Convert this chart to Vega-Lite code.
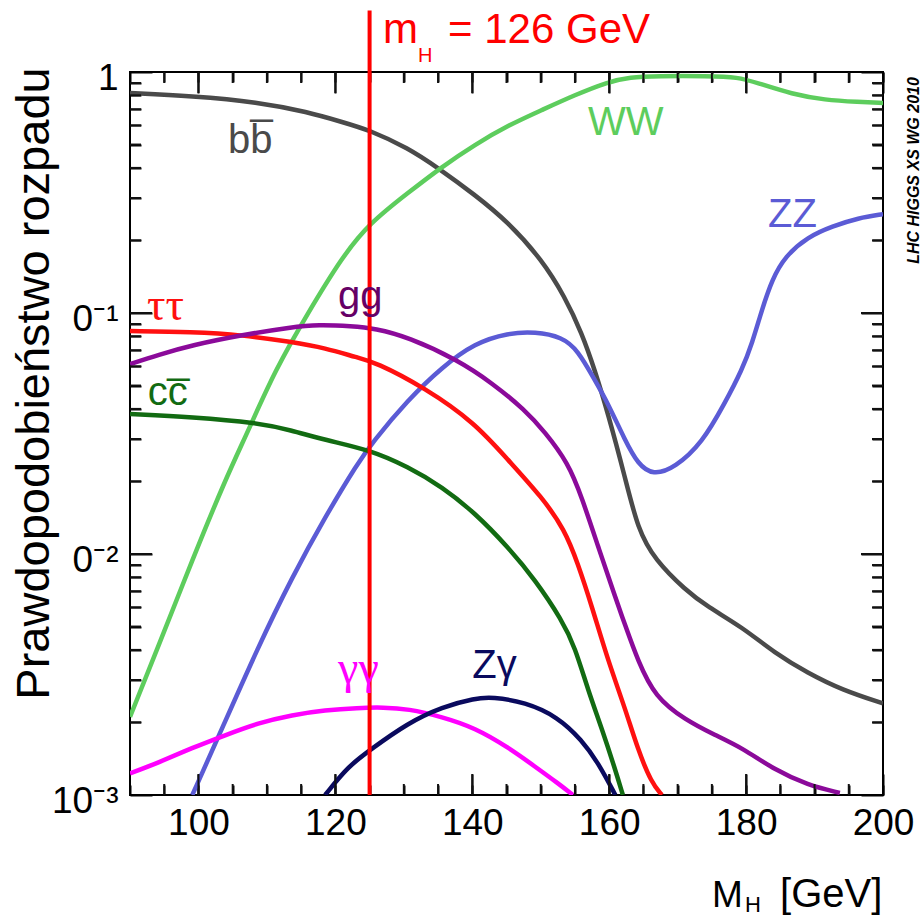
{
  "$schema": "https://vega.github.io/schema/vega-lite/v6.json",
  "width": 753,
  "height": 723,
  "autosize": {"type": "none"},
  "padding": {"left": 130, "top": 72, "right": 40, "bottom": 123},
  "background": "white",
  "config": {
    "view": {"stroke": "black", "strokeWidth": 2},
    "font": "Liberation Sans",
    "axis": {"domain": false, "grid": false, "ticks": true, "tickColor": "#000000", "tickWidth": 2, "tickOpacity": 1, "labelColor": "black", "titleColor": "black", "labelFlush": false, "labelOverlap": false, "labelFont": "Liberation Sans", "titleFont": "Liberation Sans"}
  },
  "datasets": {
    "xminor": [{"v": 95}, {"v": 105}, {"v": 110}, {"v": 115}, {"v": 125}, {"v": 130}, {"v": 135}, {"v": 145}, {"v": 150}, {"v": 155}, {"v": 165}, {"v": 170}, {"v": 175}, {"v": 185}, {"v": 190}, {"v": 195}],
    "xmajor": [{"v": 100}, {"v": 120}, {"v": 140}, {"v": 160}, {"v": 180}],
    "yminor": [{"v": 0.002}, {"v": 0.003}, {"v": 0.004}, {"v": 0.005}, {"v": 0.006}, {"v": 0.007}, {"v": 0.008}, {"v": 0.009}, {"v": 0.02}, {"v": 0.03}, {"v": 0.04}, {"v": 0.05}, {"v": 0.06}, {"v": 0.07}, {"v": 0.08}, {"v": 0.09}, {"v": 0.2}, {"v": 0.3}, {"v": 0.4}, {"v": 0.5}, {"v": 0.6}, {"v": 0.7}, {"v": 0.8}, {"v": 0.9}],
    "ymajor": [{"v": 0.01}, {"v": 0.1}]
  },
  "resolve": {"axis": {"x": "independent", "y": "independent"}, "scale": {"color": "independent"}},
  "layer": [
    {
      "data": {"values": [
        {"c": "bb", "m": 90, "br": 0.818}, {"c": "bb", "m": 99, "br": 0.795}, {"c": "bb", "m": 108.7, "br": 0.751}, {"c": "bb", "m": 116, "br": 0.682}, {"c": "bb", "m": 121, "br": 0.62}, {"c": "bb", "m": 125, "br": 0.574}, {"c": "bb", "m": 130.6, "br": 0.484}, {"c": "bb", "m": 135, "br": 0.4}, {"c": "bb", "m": 140.4, "br": 0.309}, {"c": "bb", "m": 145.2, "br": 0.239}, {"c": "bb", "m": 150.2, "br": 0.166}, {"c": "bb", "m": 153.5, "br": 0.117}, {"c": "bb", "m": 156, "br": 0.0826}, {"c": "bb", "m": 157.9, "br": 0.058}, {"c": "bb", "m": 159.8, "br": 0.0385}, {"c": "bb", "m": 162.3, "br": 0.0209}, {"c": "bb", "m": 164.2, "br": 0.0126}, {"c": "bb", "m": 166.7, "br": 0.00945}, {"c": "bb", "m": 171.1, "br": 0.0071}, {"c": "bb", "m": 174.4, "br": 0.00603}, {"c": "bb", "m": 179.4, "br": 0.00498}, {"c": "bb", "m": 184.2, "br": 0.00388}, {"c": "bb", "m": 189, "br": 0.00321}, {"c": "bb", "m": 194, "br": 0.00273}, {"c": "bb", "m": 200, "br": 0.0024},
        {"c": "WW", "m": 90, "br": 0.00211}, {"c": "WW", "m": 94.1, "br": 0.00411}, {"c": "WW", "m": 99.1, "br": 0.00944}, {"c": "WW", "m": 103.9, "br": 0.0203}, {"c": "WW", "m": 107.2, "br": 0.0321}, {"c": "WW", "m": 111.2, "br": 0.058}, {"c": "WW", "m": 116, "br": 0.1}, {"c": "WW", "m": 121, "br": 0.171}, {"c": "WW", "m": 125, "br": 0.236}, {"c": "WW", "m": 130.6, "br": 0.315}, {"c": "WW", "m": 135.6, "br": 0.405}, {"c": "WW", "m": 140.4, "br": 0.5}, {"c": "WW", "m": 145.2, "br": 0.6}, {"c": "WW", "m": 150.2, "br": 0.696}, {"c": "WW", "m": 155, "br": 0.803}, {"c": "WW", "m": 159.8, "br": 0.909}, {"c": "WW", "m": 163, "br": 0.953}, {"c": "WW", "m": 167.1, "br": 0.962}, {"c": "WW", "m": 174.4, "br": 0.962}, {"c": "WW", "m": 178.8, "br": 0.953}, {"c": "WW", "m": 181.7, "br": 0.9}, {"c": "WW", "m": 186.7, "br": 0.81}, {"c": "WW", "m": 191.5, "br": 0.765}, {"c": "WW", "m": 196.4, "br": 0.751}, {"c": "WW", "m": 200, "br": 0.744},
        {"c": "ZZ", "m": 99.1, "br": 0.001}, {"c": "ZZ", "m": 102.9, "br": 0.00174}, {"c": "ZZ", "m": 108.7, "br": 0.00411}, {"c": "ZZ", "m": 113.7, "br": 0.00803}, {"c": "ZZ", "m": 118.5, "br": 0.01425}, {"c": "ZZ", "m": 123.3, "br": 0.0239}, {"c": "ZZ", "m": 125.35, "br": 0.0289}, {"c": "ZZ", "m": 130.6, "br": 0.0436}, {"c": "ZZ", "m": 135.6, "br": 0.0597}, {"c": "ZZ", "m": 140.4, "br": 0.0751}, {"c": "ZZ", "m": 145.2, "br": 0.0826}, {"c": "ZZ", "m": 149.2, "br": 0.0836}, {"c": "ZZ", "m": 153.1, "br": 0.0795}, {"c": "ZZ", "m": 155.4, "br": 0.0702}, {"c": "ZZ", "m": 157.9, "br": 0.0527}, {"c": "ZZ", "m": 159.8, "br": 0.0423}, {"c": "ZZ", "m": 162.3, "br": 0.0297}, {"c": "ZZ", "m": 164.2, "br": 0.0236}, {"c": "ZZ", "m": 166.4, "br": 0.0212}, {"c": "ZZ", "m": 169.6, "br": 0.0228}, {"c": "ZZ", "m": 173.6, "br": 0.0289}, {"c": "ZZ", "m": 176.9, "br": 0.0423}, {"c": "ZZ", "m": 179.4, "br": 0.058}, {"c": "ZZ", "m": 180.9, "br": 0.0751}, {"c": "ZZ", "m": 182.3, "br": 0.103}, {"c": "ZZ", "m": 183.8, "br": 0.138}, {"c": "ZZ", "m": 185.7, "br": 0.172}, {"c": "ZZ", "m": 189, "br": 0.207}, {"c": "ZZ", "m": 192.6, "br": 0.229}, {"c": "ZZ", "m": 196.4, "br": 0.248}, {"c": "ZZ", "m": 200, "br": 0.257},
        {"c": "tautau", "m": 90, "br": 0.0842}, {"c": "tautau", "m": 99.1, "br": 0.0834}, {"c": "tautau", "m": 106.4, "br": 0.0811}, {"c": "tautau", "m": 113.7, "br": 0.0758}, {"c": "tautau", "m": 118.5, "br": 0.0716}, {"c": "tautau", "m": 123.3, "br": 0.0651}, {"c": "tautau", "m": 125.8, "br": 0.0626}, {"c": "tautau", "m": 133.1, "br": 0.0489}, {"c": "tautau", "m": 140.4, "br": 0.035}, {"c": "tautau", "m": 145.2, "br": 0.0246}, {"c": "tautau", "m": 150.2, "br": 0.0172}, {"c": "tautau", "m": 153.5, "br": 0.0126}, {"c": "tautau", "m": 155.4, "br": 0.00918}, {"c": "tautau", "m": 157.5, "br": 0.00603}, {"c": "tautau", "m": 159.8, "br": 0.00363}, {"c": "tautau", "m": 162.3, "br": 0.0023}, {"c": "tautau", "m": 164.2, "br": 0.00154}, {"c": "tautau", "m": 166.2, "br": 0.00112}, {"c": "tautau", "m": 167.7, "br": 0.001},
        {"c": "gg", "m": 90, "br": 0.0614}, {"c": "gg", "m": 94.1, "br": 0.067}, {"c": "gg", "m": 99.1, "br": 0.0736}, {"c": "gg", "m": 106.4, "br": 0.0811}, {"c": "gg", "m": 113.7, "br": 0.0875}, {"c": "gg", "m": 117.5, "br": 0.0895}, {"c": "gg", "m": 122.4, "br": 0.0882}, {"c": "gg", "m": 125.8, "br": 0.0862}, {"c": "gg", "m": 130.6, "br": 0.0795}, {"c": "gg", "m": 137.9, "br": 0.0638}, {"c": "gg", "m": 142.9, "br": 0.0512}, {"c": "gg", "m": 147.7, "br": 0.0396}, {"c": "gg", "m": 150.6, "br": 0.0321}, {"c": "gg", "m": 154, "br": 0.0239}, {"c": "gg", "m": 156, "br": 0.0172}, {"c": "gg", "m": 158.4, "br": 0.0107}, {"c": "gg", "m": 160.9, "br": 0.0066}, {"c": "gg", "m": 162.3, "br": 0.0051}, {"c": "gg", "m": 164.2, "br": 0.0036}, {"c": "gg", "m": 166.7, "br": 0.00255}, {"c": "gg", "m": 171.1, "br": 0.00205}, {"c": "gg", "m": 175.5, "br": 0.00177}, {"c": "gg", "m": 179.4, "br": 0.00157}, {"c": "gg", "m": 184.2, "br": 0.00127}, {"c": "gg", "m": 189, "br": 0.0011}, {"c": "gg", "m": 193.7, "br": 0.00102},
        {"c": "cc", "m": 90, "br": 0.0381}, {"c": "cc", "m": 99.1, "br": 0.037}, {"c": "cc", "m": 108.7, "br": 0.035}, {"c": "cc", "m": 113.4, "br": 0.0327}, {"c": "cc", "m": 118.5, "br": 0.0297}, {"c": "cc", "m": 125.1, "br": 0.027}, {"c": "cc", "m": 130.6, "br": 0.023}, {"c": "cc", "m": 135.6, "br": 0.019}, {"c": "cc", "m": 140.4, "br": 0.0148}, {"c": "cc", "m": 145.2, "br": 0.0107}, {"c": "cc", "m": 149.2, "br": 0.0078}, {"c": "cc", "m": 153.1, "br": 0.00532}, {"c": "cc", "m": 155, "br": 0.00411}, {"c": "cc", "m": 156.9, "br": 0.00273}, {"c": "cc", "m": 159, "br": 0.00186}, {"c": "cc", "m": 160.9, "br": 0.00127}, {"c": "cc", "m": 162, "br": 0.001},
        {"c": "gamgam", "m": 90, "br": 0.00123}, {"c": "gamgam", "m": 94.1, "br": 0.00136}, {"c": "gamgam", "m": 99.1, "br": 0.00157}, {"c": "gamgam", "m": 103.9, "br": 0.00177}, {"c": "gamgam", "m": 108.7, "br": 0.00199}, {"c": "gamgam", "m": 113.7, "br": 0.00215}, {"c": "gamgam", "m": 118.5, "br": 0.00225}, {"c": "gamgam", "m": 123.3, "br": 0.0023}, {"c": "gamgam", "m": 127, "br": 0.00231}, {"c": "gamgam", "m": 130.6, "br": 0.00228}, {"c": "gamgam", "m": 135.6, "br": 0.00211}, {"c": "gamgam", "m": 140.4, "br": 0.0019}, {"c": "gamgam", "m": 145.2, "br": 0.00158}, {"c": "gamgam", "m": 149.2, "br": 0.00131}, {"c": "gamgam", "m": 152.5, "br": 0.00112}, {"c": "gamgam", "m": 154.7, "br": 0.001},
        {"c": "Zgam", "m": 118.5, "br": 0.001}, {"c": "Zgam", "m": 121.8, "br": 0.00131}, {"c": "Zgam", "m": 125.1, "br": 0.00154}, {"c": "Zgam", "m": 130.6, "br": 0.00199}, {"c": "Zgam", "m": 135.6, "br": 0.00232}, {"c": "Zgam", "m": 140.4, "br": 0.00252}, {"c": "Zgam", "m": 142.9, "br": 0.00255}, {"c": "Zgam", "m": 147.7, "br": 0.00243}, {"c": "Zgam", "m": 152.5, "br": 0.00211}, {"c": "Zgam", "m": 156, "br": 0.00169}, {"c": "Zgam", "m": 158.4, "br": 0.00136}, {"c": "Zgam", "m": 160.9, "br": 0.001}
      ]},
      "mark": {"type": "line", "strokeWidth": 4.5, "interpolate": "basis", "clip": true},
      "encoding": {
        "x": {"field": "m", "type": "quantitative", "scale": {"type": "linear", "domain": [90, 200], "nice": false, "zero": false},
          "axis": {"orient": "bottom", "offset": -21, "values": [100, 120, 140, 160, 180, 200], "ticks": true, "tickSize": 21, "tickColor": "#000000", "tickWidth": 2, "tickOpacity": 1, "labelPadding": 10, "labelFontSize": 37, "title": null}},
        "y": {"field": "br", "type": "quantitative", "scale": {"type": "log", "domain": [0.001, 1], "nice": false},
          "axis": {"orient": "left", "offset": -22, "values": [0.001, 0.01, 0.1, 1], "ticks": true, "tickSize": 22, "tickColor": "#000000", "tickWidth": 2, "tickOpacity": 1, "labelPadding": 12, "labelFontSize": 37, "labelOffset": 6,
            "labelExpr": "datum.value >= 0.5 ? '1' : datum.value >= 0.05 ? '0⁻¹' : datum.value >= 0.005 ? '0⁻²' : '10⁻³'",
            "title": "Prawdopodobieństwo rozpadu", "titleFontSize": 47, "titleFontWeight": "normal", "titleAngle": 270, "titleX": -104, "titleY": 311, "titleBaseline": "alphabetic", "titleAlign": "center"}},
        "color": {"field": "c", "type": "nominal", "legend": null,
          "scale": {"domain": ["bb", "WW", "ZZ", "tautau", "gg", "cc", "gamgam", "Zgam"], "range": ["#4a4a4a", "#5dcd5d", "#5b5bd5", "#ff1010", "#8b0a9a", "#126b12", "#ff00ff", "#0a0a5e"]}}
      }
    },
    {
      "data": {"name": "xminor"},
      "mark": {"type": "tick", "orient": "vertical", "size": 11, "thickness": 2, "color": "#111111", "opacity": 1, "yOffset": -5.5},
      "encoding": {"x": {"field": "v", "type": "quantitative", "axis": null}, "y": {"datum": 0.001, "type": "quantitative", "axis": null}}
    },
    {
      "data": {"name": "xminor"},
      "mark": {"type": "tick", "orient": "vertical", "size": 11, "thickness": 2, "color": "#111111", "opacity": 1, "yOffset": 5.5},
      "encoding": {"x": {"field": "v", "type": "quantitative", "axis": null}, "y": {"datum": 1, "type": "quantitative", "axis": null}}
    },
    {
      "data": {"name": "xmajor"},
      "mark": {"type": "tick", "orient": "vertical", "size": 21, "thickness": 2, "color": "#111111", "opacity": 1, "yOffset": -10.5},
      "encoding": {"x": {"field": "v", "type": "quantitative", "axis": null}, "y": {"datum": 0.001, "type": "quantitative", "axis": null}}
    },
    {
      "data": {"name": "xmajor"},
      "mark": {"type": "tick", "orient": "vertical", "size": 21, "thickness": 2, "color": "#111111", "opacity": 1, "yOffset": 10.5},
      "encoding": {"x": {"field": "v", "type": "quantitative", "axis": null}, "y": {"datum": 1, "type": "quantitative", "axis": null}}
    },
    {
      "data": {"name": "yminor"},
      "mark": {"type": "tick", "orient": "horizontal", "size": 11, "thickness": 2, "color": "#111111", "opacity": 1, "xOffset": 5.5},
      "encoding": {"y": {"field": "v", "type": "quantitative", "axis": null}, "x": {"datum": 90, "type": "quantitative", "axis": null}}
    },
    {
      "data": {"name": "yminor"},
      "mark": {"type": "tick", "orient": "horizontal", "size": 11, "thickness": 2, "color": "#111111", "opacity": 1, "xOffset": -5.5},
      "encoding": {"y": {"field": "v", "type": "quantitative", "axis": null}, "x": {"datum": 200, "type": "quantitative", "axis": null}}
    },
    {
      "data": {"name": "ymajor"},
      "mark": {"type": "tick", "orient": "horizontal", "size": 22, "thickness": 2, "color": "#111111", "opacity": 1, "xOffset": 11},
      "encoding": {"y": {"field": "v", "type": "quantitative", "axis": null}, "x": {"datum": 90, "type": "quantitative", "axis": null}}
    },
    {
      "data": {"name": "ymajor"},
      "mark": {"type": "tick", "orient": "horizontal", "size": 22, "thickness": 2, "color": "#111111", "opacity": 1, "xOffset": -11},
      "encoding": {"y": {"field": "v", "type": "quantitative", "axis": null}, "x": {"datum": 200, "type": "quantitative", "axis": null}}
    },
    {
      "data": {"values": [{}]},
      "mark": {"type": "rule", "color": "#ff0000", "strokeWidth": 4},
      "encoding": {
        "x": {"datum": 125, "type": "quantitative", "scale": {"type": "linear", "domain": [90, 200], "nice": false, "zero": false},
          "axis": {"orient": "top", "offset": -21, "values": [100, 120, 140, 160, 180, 200], "ticks": true, "tickSize": 21, "tickColor": "#000000", "tickWidth": 2, "tickOpacity": 1, "labels": false, "title": null}},
        "y": {"datum": 0.001, "type": "quantitative", "scale": {"type": "log", "domain": [0.001, 1], "nice": false},
          "axis": {"orient": "right", "offset": -22, "values": [0.001, 0.01, 0.1, 1], "ticks": true, "tickSize": 22, "tickColor": "#000000", "tickWidth": 2, "tickOpacity": 1, "labels": false,
            "title": "LHC HIGGS XS WG 2010", "titleFontSize": 16, "titleFontWeight": "bold", "titleFontStyle": "italic", "titleAngle": 270, "titleX": 52, "titleY": 98, "titleBaseline": "middle", "titleAlign": "center"}},
        "y2": {"datum": 1.8}
      }
    },
    {
      "data": {"values": [
        {"t": "bb̅", "m": 104.3, "br": 0.461},
        {"t": "WW", "m": 156.9, "br": 0.548},
        {"t": "ZZ", "m": 183.2, "br": 0.2275},
        {"t": "gg", "m": 120.4, "br": 0.104},
        {"t": "cc̅", "m": 92.6, "br": 0.0415},
        {"t": "Zγ", "m": 140.0, "br": 0.00306}
      ]},
      "mark": {"type": "text", "align": "left", "baseline": "alphabetic", "fontSize": 40, "font": "Liberation Sans"},
      "encoding": {
        "x": {"field": "m", "type": "quantitative", "scale": {"type": "linear", "domain": [90, 200], "nice": false, "zero": false},
          "axis": {"orient": "bottom", "offset": -10, "values": [90, 95, 100, 105, 110, 115, 120, 125, 130, 135, 140, 145, 150, 155, 160, 165, 170, 175, 180, 185, 190, 195, 200], "ticks": true, "tickSize": 10, "tickColor": "#000000", "tickWidth": 2, "tickOpacity": 1, "labels": false, "title": null}},
        "y": {"field": "br", "type": "quantitative", "scale": {"type": "log", "domain": [0.001, 1], "nice": false},
          "axis": {"orient": "left", "offset": -11, "values": [0.002, 0.003, 0.004, 0.005, 0.006, 0.007, 0.008, 0.009, 0.02, 0.03, 0.04, 0.05, 0.06, 0.07, 0.08, 0.09, 0.2, 0.3, 0.4, 0.5, 0.6, 0.7, 0.8, 0.9], "ticks": true, "tickSize": 11, "tickColor": "#000000", "tickWidth": 2, "tickOpacity": 1, "labels": false, "title": null}},
        "text": {"field": "t"},
        "color": {"field": "t", "type": "nominal", "legend": null,
          "scale": {"domain": ["bb̅", "WW", "ZZ", "gg", "cc̅", "Zγ"], "range": ["#4a4a4a", "#5dcd5d", "#5b5bd5", "#660066", "#126b12", "#0a0a5e"]}}
      }
    },
    {
      "data": {"values": [
        {"t": "ττ", "m": 92.5, "br": 0.0935},
        {"t": "γγ", "m": 120.4, "br": 0.00292}
      ]},
      "mark": {"type": "text", "align": "left", "baseline": "alphabetic", "fontSize": 46, "font": "Liberation Serif"},
      "encoding": {
        "x": {"field": "m", "type": "quantitative", "scale": {"type": "linear", "domain": [90, 200], "nice": false, "zero": false},
          "axis": {"orient": "top", "offset": -10, "values": [90, 95, 100, 105, 110, 115, 120, 125, 130, 135, 140, 145, 150, 155, 160, 165, 170, 175, 180, 185, 190, 195, 200], "ticks": true, "tickSize": 10, "tickColor": "#000000", "tickWidth": 2, "tickOpacity": 1, "labels": false, "title": null}},
        "y": {"field": "br", "type": "quantitative", "scale": {"type": "log", "domain": [0.001, 1], "nice": false},
          "axis": {"orient": "right", "offset": -11, "values": [0.002, 0.003, 0.004, 0.005, 0.006, 0.007, 0.008, 0.009, 0.02, 0.03, 0.04, 0.05, 0.06, 0.07, 0.08, 0.09, 0.2, 0.3, 0.4, 0.5, 0.6, 0.7, 0.8, 0.9], "ticks": true, "tickSize": 11, "tickColor": "#000000", "tickWidth": 2, "tickOpacity": 1, "labels": false, "title": null}},
        "text": {"field": "t"},
        "color": {"field": "t", "type": "nominal", "legend": null,
          "scale": {"domain": ["ττ", "γγ"], "range": ["#ff1010", "#ff00ff"]}}
      }
    },
    {
      "data": {"values": [
        {"t": "m", "m": 126.96, "br": 1.319},
        {"t": "= 126 GeV", "m": 136.46, "br": 1.319}
      ]},
      "mark": {"type": "text", "align": "left", "baseline": "alphabetic", "fontSize": 42, "font": "Liberation Sans", "color": "#ff0000"},
      "encoding": {
        "x": {"field": "m", "type": "quantitative", "axis": null},
        "y": {"field": "br", "type": "quantitative", "axis": null},
        "text": {"field": "t"}
      }
    },
    {
      "data": {"values": [{"t": "H", "m": 132.07, "br": 1.1}]},
      "mark": {"type": "text", "align": "left", "baseline": "alphabetic", "fontSize": 20, "font": "Liberation Sans", "color": "#ff0000"},
      "encoding": {
        "x": {"field": "m", "type": "quantitative", "axis": null},
        "y": {"field": "br", "type": "quantitative", "axis": null},
        "text": {"field": "t"}
      }
    },
    {
      "data": {"values": [{"t": "M", "m": 175.03, "br": 0.000343}]},
      "mark": {"type": "text", "align": "left", "baseline": "alphabetic", "fontSize": 37, "font": "Liberation Sans", "color": "black"},
      "encoding": {
        "x": {"field": "m", "type": "quantitative", "axis": null},
        "y": {"field": "br", "type": "quantitative", "axis": null},
        "text": {"field": "t"}
      }
    },
    {
      "data": {"values": [{"t": "[GeV]", "m": 199.9, "br": 0.000343}]},
      "mark": {"type": "text", "align": "right", "baseline": "alphabetic", "fontSize": 40, "font": "Liberation Sans", "color": "black"},
      "encoding": {
        "x": {"field": "m", "type": "quantitative", "axis": null},
        "y": {"field": "br", "type": "quantitative", "axis": null},
        "text": {"field": "t"}
      }
    },
    {
      "data": {"values": [{"t": "H", "m": 179.85, "br": 0.000327}]},
      "mark": {"type": "text", "align": "left", "baseline": "alphabetic", "fontSize": 22, "font": "Liberation Sans", "color": "black"},
      "encoding": {
        "x": {"field": "m", "type": "quantitative", "axis": null},
        "y": {"field": "br", "type": "quantitative", "axis": null},
        "text": {"field": "t"}
      }
    }
  ]
}
